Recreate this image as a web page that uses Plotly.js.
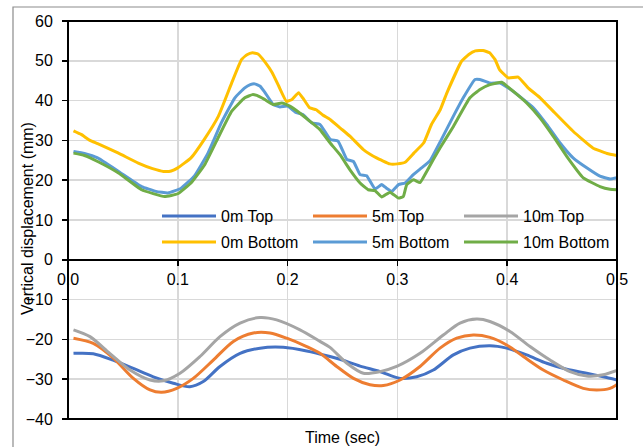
<!DOCTYPE html>
<html>
<head>
<meta charset="utf-8">
<script src="https://cdn.plot.ly/plotly-3.0.1.min.js"></script>
<style>
html,body{margin:0;padding:0;background:#fff;}
#chart{width:643px;height:447px;}
</style>
</head>
<body>
<div id="chart"></div>
<script>
// Series names
const seriesNames = ["0m Top", "5m Top", "10m Top", "0m Bottom", "5m Bottom", "10m Bottom"];
const seriesColors = ["#4472C4", "#ED7D31", "#A5A5A5", "#FFC000", "#5B9BD5", "#70AD47"];

// 0m Top
const t0mTop = [0.005,0.023,0.041,0.0595,0.0777,0.0959,0.111,0.1232,0.1384,0.1567,0.1749,0.196,0.2174,0.2386,0.2477,0.266,0.2842,0.3024,0.3176,0.3327,0.351,0.3661,0.3843,0.3995,0.4177,0.436,0.4542,0.4724,0.4875,0.5];
const v0mTop = [-23.5,-23.6,-25.2,-27.3,-29.4,-31.0,-31.9,-30.6,-26.8,-23.5,-22.2,-22.0,-22.9,-24.3,-25.0,-26.7,-28.1,-29.8,-29.4,-27.7,-23.9,-22.2,-21.6,-22.2,-23.9,-26.0,-27.5,-28.5,-29.4,-30.2];

// 5m Top
const t5mTop = [0.005,0.023,0.0413,0.0595,0.0747,0.0853,0.099,0.1141,0.1323,0.1506,0.1688,0.184,0.1992,0.2174,0.2295,0.2447,0.26,0.275,0.2872,0.3024,0.3206,0.3388,0.354,0.3691,0.3843,0.3995,0.4147,0.4329,0.4511,0.4693,0.4815,0.4936,0.5];
const v5mTop = [-19.7,-21.0,-24.7,-29.8,-32.7,-33.3,-32.3,-29.8,-25.2,-20.5,-18.4,-18.4,-19.7,-21.8,-23.5,-26.8,-29.8,-31.4,-31.6,-30.2,-26.8,-22.2,-19.7,-18.9,-19.5,-21.4,-24.3,-27.7,-30.2,-32.3,-32.7,-32.3,-31.3];

// 10m Top
const t10mTop = [0.005,0.02,0.038,0.0565,0.0747,0.0868,0.102,0.1202,0.1384,0.1567,0.1749,0.19,0.2113,0.2295,0.2386,0.254,0.269,0.2842,0.2993,0.3206,0.3418,0.357,0.3722,0.3843,0.4025,0.4208,0.439,0.4572,0.4724,0.4875,0.5];
const v10mTop = [-17.6,-19.3,-23.5,-27.7,-30.2,-30.4,-28.5,-24.3,-19.3,-15.9,-14.5,-15.1,-17.6,-20.5,-22.0,-26.0,-28.5,-28.1,-26.8,-23.5,-18.9,-15.9,-14.9,-15.5,-18.0,-21.8,-25.2,-28.1,-29.2,-28.9,-27.8];

// 0m Bottom
const t0mBot = [0.005,0.012,0.02,0.027,0.046,0.064,0.077,0.087,0.094,0.1,0.112,0.124,0.137,0.149,0.158,0.163,0.168,0.173,0.18,0.186,0.192,0.199,0.204,0.21,0.214,0.22,0.226,0.232,0.239,0.248,0.257,0.269,0.281,0.293,0.3,0.307,0.315,0.324,0.331,0.339,0.345,0.3585,0.365,0.371,0.378,0.384,0.389,0.393,0.401,0.41,0.419,0.43,0.442,0.46,0.478,0.491,0.5];
const v0mBot = [32.4,31.5,30.0,29.2,26.8,24.3,22.9,22.2,22.3,23.1,25.6,30.2,36.1,44.4,50.3,51.5,52.0,51.7,49.5,47.0,43.6,39.8,40.3,42.0,40.6,38.2,37.7,36.4,35.2,33.1,31.0,27.7,25.6,24.1,24.1,24.5,26.8,29.4,34.0,37.7,41.9,49.9,51.6,52.5,52.6,52.0,50.3,47.8,45.7,45.9,43.2,40.7,37.3,32.3,28.1,26.7,26.2];

// 5m Bottom
const t5mBot = [0.005,0.015,0.027,0.046,0.067,0.08,0.091,0.103,0.115,0.1275,0.1396,0.152,0.161,0.166,0.17,0.175,0.179,0.187,0.193,0.2,0.207,0.214,0.222,0.2295,0.239,0.246,0.254,0.26,0.266,0.272,0.2796,0.2857,0.29,0.295,0.301,0.307,0.3145,0.322,0.3297,0.34,0.351,0.36,0.3707,0.3752,0.3843,0.3934,0.4025,0.4147,0.4238,0.436,0.448,0.46,0.4724,0.4845,0.4936,0.5];
const v5mBot = [27.2,26.7,25.6,22.2,18.4,17.2,16.8,18.0,21.0,26.8,34.4,40.7,43.2,44.0,44.2,43.6,42.2,39.0,38.4,38.6,37.1,36.5,34.4,34.0,30.2,29.8,25.2,24.7,21.4,21.1,17.8,18.9,18.0,17.2,18.9,19.3,21.4,23.1,24.9,30.2,36.1,40.7,45.3,45.3,44.4,44.4,42.9,40.3,38.2,34.0,29.4,25.6,23.1,21.0,20.3,20.6];

// 10m Bottom
const t10mBot = [0.005,0.015,0.027,0.046,0.067,0.088,0.1,0.112,0.1245,0.1366,0.149,0.161,0.168,0.172,0.179,0.187,0.1946,0.202,0.211,0.2204,0.2295,0.2386,0.2477,0.2568,0.266,0.2735,0.2796,0.2857,0.2933,0.301,0.3054,0.3085,0.3145,0.3206,0.3267,0.3327,0.3388,0.351,0.366,0.3752,0.3843,0.395,0.4056,0.4177,0.43,0.442,0.4542,0.4693,0.4845,0.4936,0.5];
const v10mBot = [26.8,26.2,24.7,21.8,17.6,15.9,16.6,19.3,23.9,30.6,37.3,40.7,41.5,41.3,40.3,39.0,39.4,38.6,36.9,34.8,32.7,29.4,26.4,22.6,19.3,17.6,17.4,15.8,17.0,15.5,15.9,18.9,20.1,19.4,22.2,25.2,28.1,33.5,40.7,42.8,44.0,44.6,42.3,39.4,35.6,31.0,26.0,20.6,18.4,17.7,17.6];

// Axis ticks
const xTickVals = [0, 0.1, 0.2, 0.3, 0.4, 0.5];
const xTickText = ["0.0", "0.1", "0.2", "0.3", "0.4", "0.5"];
const yTickVals = [-40, -30, -20, -10, 0, 10, 20, 30, 40, 50, 60];

const xs = [t0mTop, t5mTop, t10mTop, t0mBot, t5mBot, t10mBot];
const ys = [v0mTop, v5mTop, v10mTop, v0mBot, v5mBot, v10mBot];

const traces = seriesNames.map((name, i) => ({
  type: 'scatter',
  mode: 'lines',
  name: name,
  x: xs[i],
  y: ys[i],
  line: {color: seriesColors[i], width: 3, shape: 'spline', smoothing: i < 3 ? 0.8 : 0.35},
  legend: i < 3 ? 'legend' : 'legend2',
  hoverinfo: 'skip'
}));

const FONT = 'Liberation Sans, Arial, sans-serif';
const PL = 68, PR = 617, PT = 21, PB = 419;
const PW = PR - PL, PH = PB - PT;
const px2x = p => (p - PL) / PW;
const px2y = p => (PB - p) / PH;

const legendCommon = {
  orientation: 'h',
  xanchor: 'left',
  yanchor: 'middle',
  x: px2x(157),
  bgcolor: 'rgba(0,0,0,0)',
  borderwidth: 0,
  font: {family: FONT, size: 16, color: '#000'},
  entrywidth: 82,
  entrywidthmode: 'pixels',
  itemwidth: 54,
  traceorder: 'normal'
};

const layout = {
  width: 643,
  height: 447,
  margin: {l: PL, r: 643 - PR, t: PT, b: 447 - PB, pad: 0},
  paper_bgcolor: '#fff',
  plot_bgcolor: '#fff',
  showlegend: true,
  font: {family: FONT, size: 16, color: '#000'},
  xaxis: {
    range: [0, 0.5],
    tickvals: xTickVals,
    ticktext: xTickText,
    anchor: 'free',
    position: 0.4,
    showline: true,
    linecolor: '#000',
    linewidth: 2,
    ticks: 'outside',
    ticklen: 5,
    tickwidth: 1.5,
    tickcolor: '#000',
    showgrid: true,
    gridcolor: '#D9D9D9',
    gridwidth: 1.5,
    zeroline: false,
    tickfont: {family: FONT, size: 16, color: '#000'},
    fixedrange: true
  },
  yaxis: {
    range: [-40, 60],
    tickvals: yTickVals,
    showline: false,
    ticks: 'outside',
    ticklen: 5,
    tickwidth: 1.5,
    tickcolor: '#000',
    showgrid: true,
    gridcolor: '#D9D9D9',
    gridwidth: 1.5,
    zeroline: false,
    tickfont: {family: FONT, size: 16, color: '#000'},
    ticklabelstandoff: 6,
    fixedrange: true
  },
  legend: Object.assign({}, legendCommon, {y: px2y(216)}),
  legend2: Object.assign({}, legendCommon, {y: px2y(242)}),
  shapes: [
    {type: 'rect', xref: 'paper', yref: 'paper', x0: 0, x1: 1, y0: 0, y1: 1,
     line: {color: '#000', width: 2}, layer: 'above'},
    {type: 'path', xref: 'paper', yref: 'paper',
     path: 'M ' + px2x(13) + ' ' + px2y(460) + ' L ' + px2x(13) + ' ' + px2y(7) + ' L ' + px2x(660) + ' ' + px2y(7),
     line: {color: '#8c8c8c', width: 1.2}, layer: 'above'}
  ],
  annotations: [
    {text: 'Vertical displacement (mm)', xref: 'paper', yref: 'paper',
     x: px2x(27), y: px2y(219), textangle: -90, showarrow: false,
     xanchor: 'center', yanchor: 'middle',
     font: {family: FONT, size: 16, color: '#000'}},
    {text: 'Time (sec)', xref: 'paper', yref: 'paper',
     x: px2x(342.5), y: px2y(437), showarrow: false,
     xanchor: 'center', yanchor: 'middle',
     font: {family: FONT, size: 16, color: '#000'}}
  ]
};

Plotly.newPlot('chart', traces, layout, {displayModeBar: false, staticPlot: true});
</script>
</body>
</html>
